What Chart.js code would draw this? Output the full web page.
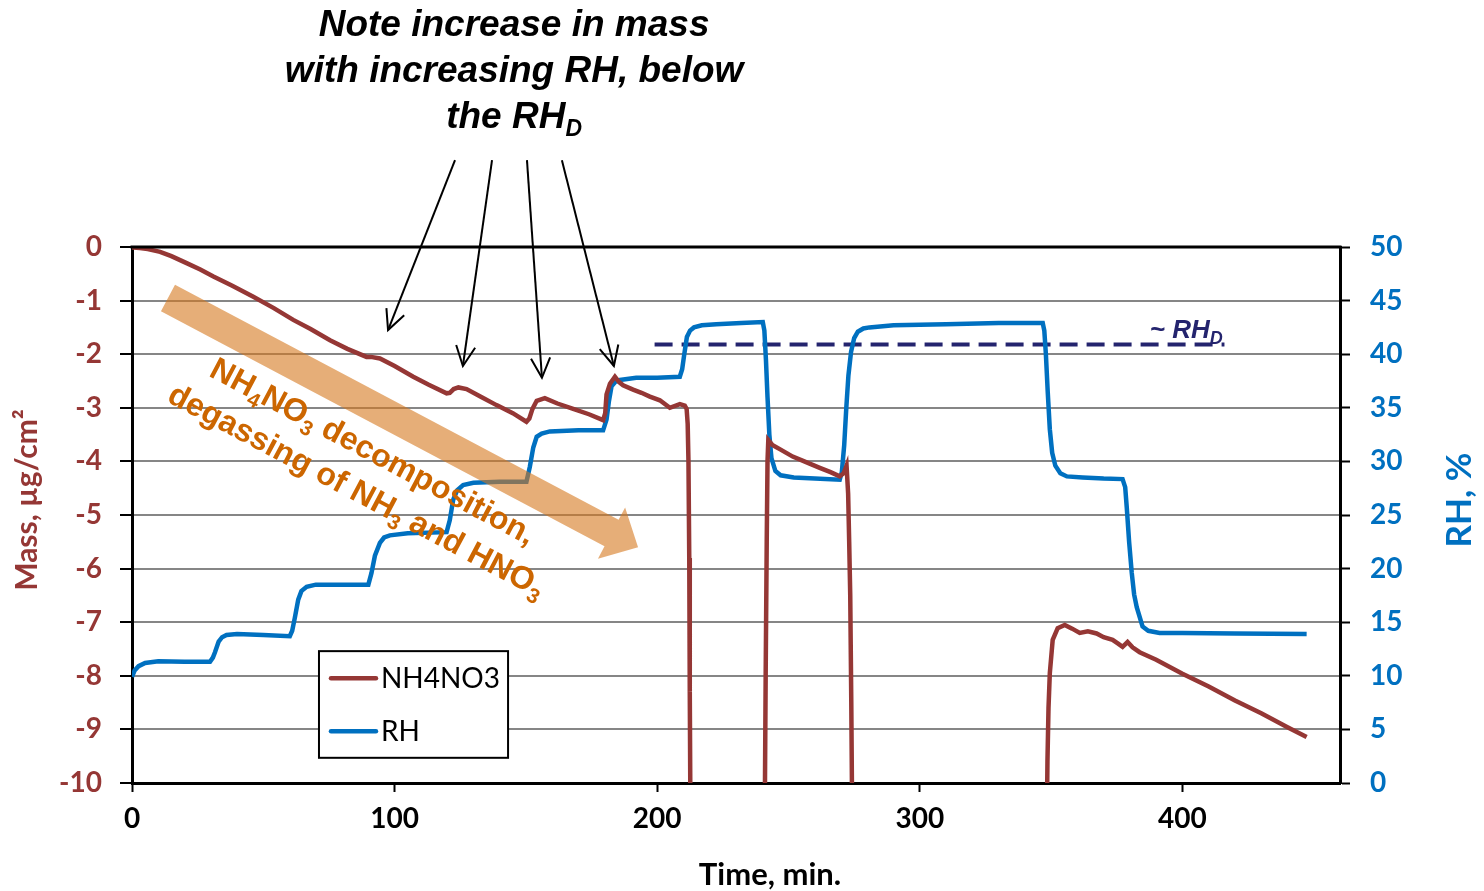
<!DOCTYPE html>
<html><head><meta charset="utf-8">
<script src="https://cdn.jsdelivr.net/npm/chart.js@4.4.0/dist/chart.umd.min.js"></script>
<style>html,body{margin:0;padding:0;background:#fff;}canvas{display:block}</style>
</head><body>
<canvas id="c" width="1484" height="891"></canvas>
<script>
// ---- data ----
const massTime = [0,0.5,3,6,10.7,15,20.8,26,31,38,46.2,54,61.4,68,75.4,82,89.3,91,94.4,100,107.1,113,119.8,121,122.5,124.3,127.4,133,138.8,145,150.2,151.3,152.5,154.1,157.2,162,168,174,179.4,180.2,180.7,182,183.9,185.5,187,190.8,194,197.2,201,204.8,208.6,210.5,211.2,211.6,211.9,212.2,212.4,212.7,226,240.9,241.3,241.7,242.0,242.3,244,247,251.6,256,261.9,266,269.5,271,272.1,272.7,273.1,273.5,273.9,274.3,310,348.3,348.6,349.0,349.5,350.6,352.5,355.2,358,360.9,364,367.3,370,373.4,375.5,377.2,379.1,381,383.7,390,400,410,420,430,440,447.3];
const massValue = [0,-0.01,-0.02,-0.04,-0.09,-0.17,-0.30,-0.42,-0.55,-0.72,-0.93,-1.14,-1.36,-1.53,-1.74,-1.90,-2.05,-2.05,-2.08,-2.22,-2.42,-2.57,-2.73,-2.72,-2.65,-2.62,-2.65,-2.80,-2.95,-3.10,-3.26,-3.20,-3.02,-2.87,-2.82,-2.92,-3.02,-3.12,-3.23,-3.10,-2.75,-2.55,-2.42,-2.52,-2.58,-2.66,-2.72,-2.79,-2.86,-3.00,-2.93,-2.96,-3.02,-3.30,-4.00,-5.80,-8.30,-11,null,-11,-8.0,-5.5,-4.0,-3.60,-3.70,-3.78,-3.91,-4.00,-4.12,-4.20,-4.28,-4.22,-4.08,-4.60,-5.50,-6.50,-8.50,-11,null,-11,-9.6,-8.6,-7.95,-7.33,-7.11,-7.05,-7.12,-7.20,-7.17,-7.21,-7.28,-7.33,-7.40,-7.46,-7.37,-7.47,-7.56,-7.70,-7.96,-8.20,-8.46,-8.70,-8.96,-9.14];
const rhTime = [0,1,2.5,5,10,20,29.7,30.8,31.6,33,34.3,36,40,50,60.1,61,62,63.3,64.5,66.5,70,80,90,91.2,92.5,94.4,96,98.2,105,119.8,121,122.3,123.8,126.1,130,140,150.2,151.5,152.8,154.1,156,159.1,170,179.4,180.7,181.6,182.6,184,185.8,192,200,208.6,209.5,210.3,211.3,212.5,214,217,222.5,232,240.2,240.8,241.4,242.0,242.7,243.5,245,247,252,260,269.5,270.3,271.2,272,272.8,273.8,275,276.4,278.5,280.8,290,310,330,346.8,347.4,348.0,348.7,349.5,350.4,351.6,353.5,356,362,370,377.2,378.2,378.8,379.7,380.7,381.6,382.6,384.8,387,391.3,400,420,447.3];
const rhValue = [9.9,10.5,10.9,11.2,11.35,11.3,11.3,11.7,12.2,13.2,13.6,13.8,13.9,13.8,13.7,14.2,15.4,17.1,17.9,18.3,18.5,18.5,18.5,19.6,21.2,22.4,22.9,23.1,23.3,23.4,24.5,26.4,27.3,27.8,28.0,28.1,28.1,29.5,31.3,32.3,32.6,32.8,32.9,32.9,33.9,35.6,37.0,37.4,37.6,37.8,37.8,37.9,38.6,40.0,41.6,42.2,42.5,42.7,42.8,42.9,43.0,42.2,39.5,36.0,32.5,30.3,29.1,28.7,28.5,28.4,28.3,29.0,31.5,35.0,38.0,40.2,41.5,42.1,42.4,42.5,42.7,42.8,42.9,42.9,42.2,40.0,36.5,33.0,30.8,29.6,28.9,28.6,28.5,28.4,28.35,27.6,25.7,22.5,19.6,17.6,16.4,14.6,14.2,14.0,14.0,13.95,13.9];
const rhdTime = [199, 416];
const rhdValue = [40.9, 40.9];
const xTicks = [0, 100, 200, 300, 400];
const massTicks = [-10,-9,-8,-7,-6,-5,-4,-3,-2,-1,0];
const rhTicks = [0,5,10,15,20,25,30,35,40,45,50];

const MASS_COLOR = '#953735', RH_COLOR = '#0070C0', RHD_COLOR = '#24246E', NOTE_ORANGE = '#CC6600';
const FONT = 'Lato, "Liberation Sans", sans-serif';
const ARIAL = '"Liberation Sans", Arial, sans-serif';

const pts = (ts, vs) => ts.map((t, i) => ({x: t, y: vs[i]}));

// annotation anchors in data units (time, mass)
const noteArrows = [
  {from:[123.0, 1.62], to:[97.5,-1.55]},
  {from:[137.1, 1.62], to:[126.0,-2.22]},
  {from:[150.4, 1.62], to:[156.1,-2.44]},
  {from:[163.7, 1.62], to:[183.5,-2.22]}
];

function richText(ctx, parts, x, y, angle, size, color, family, style, align, subScale) {
  subScale = subScale || 0.62;
  ctx.save();
  ctx.translate(x, y); ctx.rotate(angle);
  const big = `${style} ${size}px ${family}`, small = `${style} ${Math.round(size*subScale)}px ${family}`;
  let w = 0;
  for (const [t, s] of parts) { ctx.font = s ? small : big; w += ctx.measureText(t).width; }
  let cx = align === 'left' ? 0 : -w/2;
  ctx.fillStyle = color; ctx.textBaseline = 'alphabetic';
  for (const [t, s] of parts) {
    ctx.font = s ? small : big;
    ctx.fillText(t, cx, s ? size*0.22 : 0);
    cx += ctx.measureText(t).width;
  }
  ctx.restore();
}

const annot = {
  id: 'annot',
  afterDraw(chart) {
    const ctx = chart.ctx, xs = chart.scales.x, ys = chart.scales.yMass, ca = chart.chartArea;
    const P = (t, m) => [xs.getPixelForValue(t), ys.getPixelForValue(m)];
    ctx.save();
    // top frame line
    ctx.strokeStyle = '#000'; ctx.lineWidth = 3;
    ctx.beginPath(); ctx.moveTo(ca.left-1.5, ca.top); ctx.lineTo(ca.right+1.5, ca.top); ctx.stroke();

    // big orange arrow
    const [ax0, ay0] = P(13.7, -0.95), [ax1, ay1] = P(192.7, -5.6);
    const ang = Math.atan2(ay1-ay0, ax1-ax0), L = Math.hypot(ax1-ax0, ay1-ay0);
    ctx.save();
    ctx.translate(ax0, ay0); ctx.rotate(ang);
    ctx.fillStyle = 'rgba(213,120,30,0.6)';
    const sw = 15, hl = 30, hw = 29;
    ctx.beginPath();
    ctx.moveTo(0, -sw); ctx.lineTo(L-hl, -sw); ctx.lineTo(L-hl, -hw); ctx.lineTo(L, 0);
    ctx.lineTo(L-hl, hw); ctx.lineTo(L-hl, sw); ctx.lineTo(0, sw); ctx.closePath(); ctx.fill();
    ctx.restore();

    // orange rotated text
    const [l1x, l1y] = P(89.9, -3.77), [l2x, l2y] = P(83.8, -4.50);
    const fs = 32;
    richText(ctx, [['NH',0],['4',1],['NO',0],['3',1],[' decomposition,',0]], l1x, l1y + fs*0.36, ang, fs, NOTE_ORANGE, ARIAL, 'bold', 'center', 0.65);
    richText(ctx, [['degassing of NH',0],['3',1],[' and HNO',0],['3',1]], l2x, l2y + fs*0.36, ang, fs, NOTE_ORANGE, ARIAL, 'bold', 'center', 0.65);

    // note arrows
    ctx.strokeStyle = '#000'; ctx.lineWidth = 2;
    for (const a of noteArrows) {
      const [fx, fy] = P(...a.from), [tx, ty] = P(...a.to);
      ctx.beginPath(); ctx.moveTo(fx, fy); ctx.lineTo(tx, ty); ctx.stroke();
      const th = Math.atan2(ty-fy, tx-fx), hlen = 22, spread = 0.45;
      ctx.beginPath();
      ctx.moveTo(tx - hlen*Math.cos(th-spread), ty - hlen*Math.sin(th-spread));
      ctx.lineTo(tx, ty);
      ctx.lineTo(tx - hlen*Math.cos(th+spread), ty - hlen*Math.sin(th+spread));
      ctx.stroke();
    }

    // note title
    const [tcx] = P(145.5, 0);
    const ts = 37;
    richText(ctx, [['Note increase in mass',0]], tcx, P(0, 3.94)[1], 0, ts, '#000', ARIAL, 'italic bold', 'center');
    richText(ctx, [['with increasing RH, below',0]], tcx, P(0, 3.08)[1], 0, ts, '#000', ARIAL, 'italic bold', 'center');
    richText(ctx, [['the RH',0],['D',1]], tcx, P(0, 2.22)[1], 0, ts, '#000', ARIAL, 'italic bold', 'center');

    // ~RH_D label
    const [rx, ry] = P(387.6, -1.70);
    richText(ctx, [['~ RH',0],['D',1]], rx, ry, 0, 26, RHD_COLOR, ARIAL, 'italic bold', 'left', 0.68);

    // legend
    const [lx0, ly0] = P(71.2, -7.54), [lx1, ly1] = P(143.2, -9.53);
    ctx.fillStyle = '#fff'; ctx.fillRect(lx0, ly0, lx1-lx0, ly1-ly0);
    ctx.strokeStyle = '#000'; ctx.lineWidth = 2; ctx.strokeRect(lx0, ly0, lx1-lx0, ly1-ly0);
    const items = [chart.data.datasets[0], chart.data.datasets[1]];
    items.forEach((d, i) => {
      const yy = ly0 + 27 + i*53;
      ctx.strokeStyle = d.borderColor; ctx.lineWidth = 4.5; ctx.lineCap = 'round';
      ctx.beginPath(); ctx.moveTo(lx0+12, yy); ctx.lineTo(lx0+57, yy); ctx.stroke();
      ctx.lineCap = 'butt';
      ctx.fillStyle = '#000'; ctx.font = `28px ${FONT}`; ctx.textBaseline = 'middle'; ctx.textAlign = 'left';
      ctx.fillText(d.label, lx0+62, yy+1);
    });

    // axis titles
    ctx.textAlign = 'center'; ctx.textBaseline = 'middle';
    ctx.save(); ctx.translate(27, 500); ctx.rotate(-Math.PI/2);
    ctx.fillStyle = MASS_COLOR; ctx.font = `bold 30px ${FONT}`; ctx.fillText('Mass, µg/cm²', 0, 0); ctx.restore();
    ctx.save(); ctx.translate(1460, 500); ctx.rotate(-Math.PI/2);
    ctx.fillStyle = RH_COLOR; ctx.font = `bold 35px ${FONT}`; ctx.fillText('RH, %', 0, 0); ctx.restore();
    ctx.fillStyle = '#000'; ctx.font = `bold 31px ${FONT}`; ctx.fillText('Time, min.', 770, 875);
    ctx.restore();
  }
};

const tickFont = {family: FONT, weight: 'bold', size: 28};
new Chart(document.getElementById('c'), {
  type: 'line',
  data: {datasets: [
    {label: 'NH4NO3', data: pts(massTime, massValue), yAxisID: 'yMass', borderColor: MASS_COLOR, borderWidth: 4.5, pointRadius: 0, tension: 0, spanGaps: false},
    {label: 'RH', data: pts(rhTime, rhValue), yAxisID: 'yRH', borderColor: RH_COLOR, borderWidth: 4.5, pointRadius: 0, tension: 0},
    {label: '~RHD', data: pts(rhdTime, rhdValue), yAxisID: 'yRH', borderColor: RHD_COLOR, borderWidth: 4, borderDash: [18, 9], pointRadius: 0}
  ]},
  options: {
    responsive: false, animation: false, devicePixelRatio: 1,
    layout: {padding: {top: 247, left: 0, right: 0, bottom: 0}},
    plugins: {legend: {display: false}, tooltip: {enabled: false}},
    scales: {
      x: {type: 'linear', min: 0, max: 460,
        afterBuildTicks: s => { s.ticks = xTicks.map(v => ({value: v})); },
        afterFit: s => { s.height = 108; },
        grid: {drawOnChartArea: false, tickLength: 9, tickColor: '#000', tickWidth: 2},
        border: {color: '#000', width: 3},
        ticks: {color: '#000', font: tickFont, padding: 10, maxRotation: 0}},
      yMass: {type: 'linear', position: 'left', min: -10, max: 0,
        afterBuildTicks: s => { s.ticks = massTicks.map(v => ({value: v})); },
        afterFit: s => { s.width = 132; },
        grid: {color: '#868686', lineWidth: 2, tickColor: '#000', tickLength: 12, tickWidth: 2},
        border: {color: '#000', width: 3},
        ticks: {color: MASS_COLOR, font: tickFont, padding: 18}},
      yRH: {type: 'linear', position: 'right', min: 0, max: 50,
        afterBuildTicks: s => { s.ticks = rhTicks.map(v => ({value: v})); },
        afterFit: s => { s.width = 144; },
        grid: {drawOnChartArea: false, tickColor: '#000', tickLength: 10, tickWidth: 2},
        border: {color: '#000', width: 3},
        ticks: {color: RH_COLOR, font: tickFont, padding: 20}}
    }
  },
  plugins: [annot]
});
</script>
</body></html>
